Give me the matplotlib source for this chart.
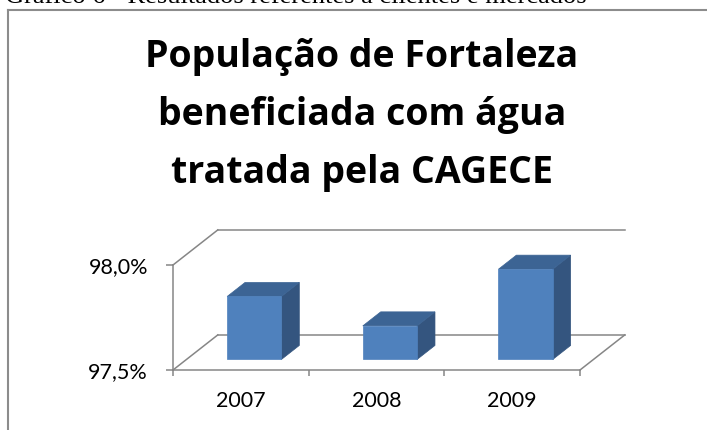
import numpy as np
import matplotlib.pyplot as plt
from matplotlib.patches import Polygon
from matplotlib.lines import Line2D

# data
years = ["2007", "2008", "2009"]
cobertura = [97.80, 97.66, 97.93]          # % da populacao atendida
y_ticks = [97.5, 98.0]
y_ticklabels = ["97,5%", "98,0%"]
title_lines = ["População de Fortaleza", "beneficiada com água", "tratada pela CAGECE"]
caption = "Gráfico 6 - Resultados referentes a clientes e mercados"

W, H = 707, 430
fig = plt.figure(figsize=(W / 100, H / 100), dpi=100)

# oblique 3D look: depth offset in data units (x: categories, y: value)
DX, DY = 0.33, 0.167
D0, D1 = 0.3, 0.7          # bar slab position inside the floor depth
BW = 0.4                   # bar width (category units)
GRID = "#868686"
FRONT, TOP, SIDE = "#4F81BD", "#3C6494", "#34557F"
TICK_FONT = dict(fontfamily="Lato", fontsize=15.5)

ax = fig.add_axes([173 / W, 1 - 370 / H, 407 / W, 105 / H])
n = len(years)
x0, x1 = -0.5, n - 0.5
ymin, ymax = y_ticks[0], y_ticks[-1]
ax.set_xlim(x0, x1)
ax.set_ylim(ymin, ymax)
ax.set_facecolor("none")

for s in ["top", "right"]:
    ax.spines[s].set_visible(False)
for s in ["left", "bottom"]:
    ax.spines[s].set_color(GRID)
    ax.spines[s].set_linewidth(1.1)

ax.set_yticks(y_ticks)
ax.set_yticklabels(y_ticklabels, **TICK_FONT)
ax.tick_params(axis="y", length=5, width=1.1, color=GRID, pad=13)
ax.set_xticks(np.arange(n + 1) - 0.5)
ax.set_xticklabels([])
ax.tick_params(axis="x", which="major", length=4.5, width=1.1, color=GRID, direction="out")
ax.set_xticks(np.arange(n), minor=True)
ax.set_xticklabels(years, minor=True, **TICK_FONT)
ax.tick_params(axis="x", which="minor", length=0, pad=15)

# walls / floor lines
def seg(xs, ys):
    ax.add_line(Line2D(xs, ys, color=GRID, lw=1.1, clip_on=False, zorder=1))

seg([x0 + DX, x1 + DX], [ymax + DY, ymax + DY])        # back wall top gridline
seg([x0 + DX, x1 + DX], [ymin + DY, ymin + DY])        # back floor edge
seg([x0, x0 + DX], [ymax, ymax + DY])                  # side wall gridline
seg([x0, x0 + DX], [ymin, ymin + DY])                  # floor left edge
seg([x1, x1 + DX], [ymin, ymin + DY])                  # floor right edge

# 3D bars
for i, v in enumerate(cobertura):
    l, r = i - BW / 2, i + BW / 2
    b = ymin
    fx, fy = D0 * DX, D0 * DY
    bx, by = D1 * DX, D1 * DY
    side = [(r + fx, b + fy), (r + bx, b + by), (r + bx, v + by), (r + fx, v + fy)]
    top = [(l + fx, v + fy), (r + fx, v + fy), (r + bx, v + by), (l + bx, v + by)]
    front = [(l + fx, b + fy), (r + fx, b + fy), (r + fx, v + fy), (l + fx, v + fy)]
    for pts, c in [(side, SIDE), (top, TOP), (front, FRONT)]:
        ax.add_patch(Polygon(pts, closed=True, facecolor=c, edgecolor=c, lw=0.5,
                             clip_on=False, zorder=3))

# title
for k, line in enumerate(title_lines):
    fig.text(362 / W, 1 - (67 + 58 * k) / H, line, ha="center", va="baseline",
             fontfamily="Open Sans", fontweight="bold", fontsize=27)

# chart frame (only top and left edges visible in the crop)
fig.add_artist(Line2D([8 / W, 8 / W], [0, 1 - 10 / H], color="#8c8c8c", lw=1.5,
                      transform=fig.transFigure))
fig.add_artist(Line2D([8 / W, 1], [1 - 10 / H, 1 - 10 / H], color="#8c8c8c", lw=1.5,
                      transform=fig.transFigure))

# caption of the document, cut off at the top edge
fig.text(5 / W, 1 - 3 / H, caption, ha="left", va="baseline",
         fontfamily="Liberation Serif", fontsize=19)

fig.savefig("out.png", dpi=100)
